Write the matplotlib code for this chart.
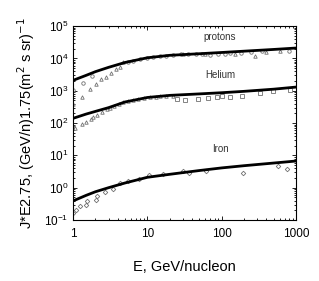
import numpy as np
import matplotlib.pyplot as plt
from matplotlib.ticker import LogLocator, NullFormatter, FixedLocator

plt.rcParams['font.family'] = ['Liberation Sans', 'DejaVu Sans']

# fitted curves (E in GeV/nucleon, J*E^2.75)
curve_E = [1, 1.5, 2, 3, 5, 10, 20, 50, 100, 200, 500, 1000]
p_curve = [2100, 3000, 3900, 5300, 7500, 10500, 12500, 14000, 15300, 16800, 19000, 21000]
he_curve = [140, 190, 230, 300, 450, 620, 720, 800, 870, 960, 1120, 1300]
fe_curve = [0.39, 0.58, 0.75, 1.0, 1.4, 2.1, 2.6, 3.4, 4.1, 4.8, 5.8, 6.7]

# protons, circles
p_circ_E = [1, 1.35, 1.78, 5.5, 6.5, 8, 10, 12, 15, 18, 22, 28, 35, 45, 55, 70, 90,
            110, 130, 180, 250, 350, 800]
p_circ_J = [1050, 1700, 2800, 7600, 8600, 9500, 10300, 11000, 11800, 12300, 12800,
            13300, 13500, 13800, 13400, 13000, 13400, 13900, 14300, 14800, 16000,
            16800, 17500]
# protons, triangles
p_tri_E = [1, 1.31, 1.69, 2.04, 2.36, 2.75, 3.2, 3.8, 4.3, 4.7, 30, 60, 150, 280, 400, 600]
p_tri_J = [400, 650, 1170, 1600, 2240, 2700, 3560, 4650, 5500, 7900, 14000, 14200,
           13500, 11500, 16000, 16500]

# helium, triangles
he_tri_E = [1, 1.06, 1.31, 1.5, 1.73, 1.84, 2.08, 2.43, 2.84, 3.15, 3.56, 4.16, 4.7,
            5.5, 6.5, 7.5, 9, 11, 13, 15, 18, 22]
he_tri_J = [80, 71, 91, 105, 130, 150, 175, 222, 270, 295, 340, 380, 440,
            470, 520, 560, 600, 620, 650, 670, 690, 700]
# helium, squares
he_sq_E = [25, 32, 48, 66, 86, 100, 130, 190, 330, 490, 830]
he_sq_J = [560, 520, 550, 600, 640, 680, 650, 680, 860, 960, 1050]

# iron, diamonds
fe_E = [1, 1.1, 1.24, 1.5, 1.56, 2.02, 2.08, 2.7, 3.42, 4.3, 5.55, 7.6, 10.6,
        16, 30.5, 36, 62, 193, 580, 750]
fe_J = [0.17, 0.21, 0.27, 0.29, 0.39, 0.41, 0.55, 0.74, 0.94, 1.35, 1.6, 1.9, 2.4,
        2.6, 3.3, 2.9, 3.3, 2.9, 4.7, 3.8]

fig = plt.figure(figsize=(3.19, 2.81), dpi=100)
ax = fig.add_axes([0.229, 0.217, 0.699, 0.690])

mk = dict(linestyle='none', markersize=2.5, markerfacecolor='white',
          markeredgecolor='#707070', markeredgewidth=0.6)
ax.plot(p_circ_E, p_circ_J, marker='o', **mk)
ax.plot(p_tri_E, p_tri_J, marker='^', **mk)
ax.plot(he_tri_E, he_tri_J, marker='^', **mk)
ax.plot(he_sq_E, he_sq_J, marker='s', **dict(mk, markersize=2.2))
ax.plot(fe_E, fe_J, marker='D', **dict(mk, markersize=2.3))

for c in (p_curve, he_curve, fe_curve):
    ax.plot(curve_E, c, color='black', lw=2)

ax.text(95, 46000, 'protons', fontsize=7, ha='center', va='center', color='#333333')
ax.text(95, 3000, 'Helium', fontsize=7, ha='center', va='center', color='#333333')
ax.text(95, 15.5, 'Iron', fontsize=7, ha='center', va='center', color='#333333')

ax.set_xscale('log')
ax.set_yscale('log')
ax.set_xlim(1, 1000)
ax.set_ylim(0.1, 1e5)
ax.xaxis.set_major_locator(FixedLocator([1, 10, 100, 1000]))
ax.set_xticklabels(['1', '10', '100', '1000'])
ax.yaxis.set_major_locator(LogLocator(base=10, numticks=10))
ax.yaxis.set_minor_locator(LogLocator(base=10, subs=np.arange(2, 10), numticks=10))
ax.xaxis.set_minor_locator(LogLocator(base=10, subs=np.arange(2, 10), numticks=10))
ax.xaxis.set_minor_formatter(NullFormatter())
ax.yaxis.set_minor_formatter(NullFormatter())
ax.tick_params(which='both', direction='in', top=True, right=True, labelsize=8.5, width=0.6)
ax.tick_params(axis='x', which='major', pad=6)
ax.tick_params(which='major', length=3)
ax.tick_params(which='minor', length=1.5)
for s in ax.spines.values():
    s.set_linewidth(0.8)

ax.set_xlabel('E, GeV/nucleon', fontsize=10.5, labelpad=14)
ax.set_ylabel(r'J*E2.75, (GeV/n)1.75(m$^2$ s sr)$^{-1}$', fontsize=10.5, labelpad=5)

fig.savefig('out.png', dpi=100)
